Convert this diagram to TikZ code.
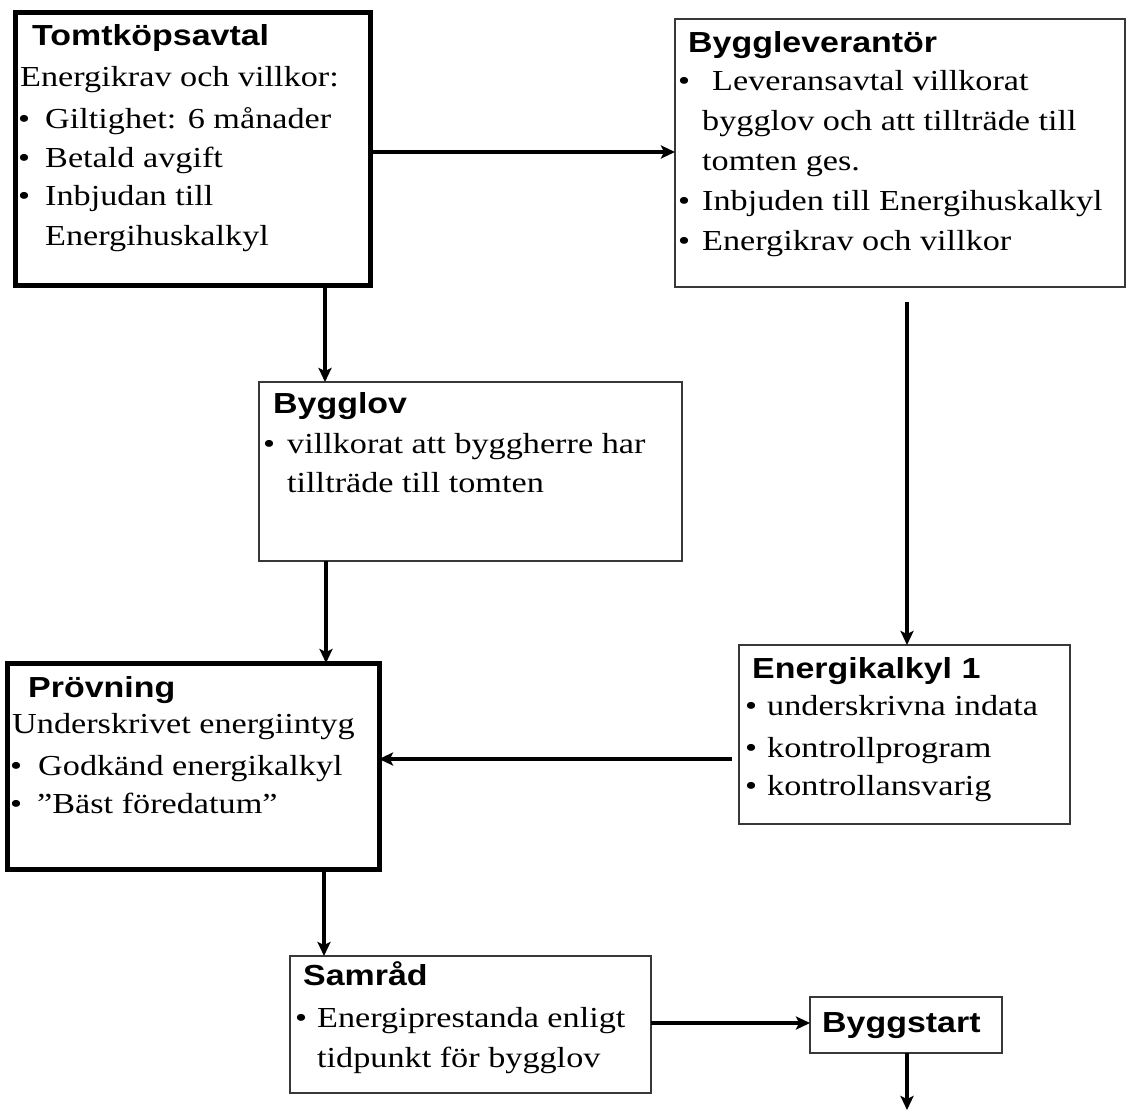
\documentclass[tikz,border=0pt]{standalone}
\usepackage{fontspec}
\usetikzlibrary{arrows.meta}
\newfontfamily\bodyfont[FakeStretch=1.18]{Liberation Serif}
\newfontfamily\headfont[FakeStretch=1.17]{Liberation Sans}
\begin{document}
\begin{tikzpicture}[x=1pt,y=-1pt,
  thinbox/.style={draw=black!78, line width=2pt, inner sep=0pt, outer sep=0pt, anchor=north west},
  thickbox/.style={draw=black, line width=5pt, inner sep=0pt, outer sep=0pt, anchor=north west},
  body/.style={anchor=base west, inner sep=0pt, font=\bodyfont\fontsize{29}{34}\selectfont},
  head/.style={anchor=base west, inner sep=0pt, font=\headfont\bfseries\fontsize{29}{34}\selectfont},
  arr/.style={line width=4pt, -{Stealth[length=14pt,width=13pt,inset=3pt]}}]
\useasboundingbox[fill=white] (0,0) rectangle (1126,1111);

% boxes
\node[thickbox, minimum width=354.5pt, minimum height=272.5pt] (tomt) at (15.5,12.5) {};
\node[thinbox, minimum width=450pt, minimum height=268pt] (byggl) at (675,19) {};
\node[thinbox, minimum width=423pt, minimum height=179pt] (bygglov) at (259,382) {};
\node[thickbox, minimum width=371.5pt, minimum height=206pt] (prov) at (7.5,663) {};
\node[thinbox, minimum width=331pt, minimum height=179pt] (energi) at (739,645) {};
\node[thinbox, minimum width=361pt, minimum height=137pt] (samrad) at (290,956) {};
\node[thinbox, minimum width=192pt, minimum height=56pt] (byggstart) at (810,997) {};

% Tomtköpsavtal
\node[head] (t0) at (32,45) {Tomtköpsavtal};
\node[body] (t1) at (20,86) {Energikrav och villkor:};
\node[body] (t2b) at (18,128) {•};
\node[body] (t2) at (45,128) {Giltighet: 6 månader};
\node[body] (t3b) at (18,167) {•};
\node[body] (t3) at (45,167) {Betald avgift};
\node[body] (t4b) at (18,205) {•};
\node[body] (t4) at (45,205) {Inbjudan till};
\node[body] (t5) at (45,245) {Energihuskalkyl};

% Byggleverantör
\node[head] (b0) at (688,52) {Byggleverantör};
\node[body] (b1b) at (678,90) {•};
\node[body] (b1) at (712,90) {Leveransavtal villkorat};
\node[body] (b2) at (702,130) {bygglov och att tillträde till};
\node[body] (b3) at (702,170) {tomten ges.};
\node[body] (b4b) at (678,210) {•};
\node[body] (b4) at (702,210) {Inbjuden till Energihuskalkyl};
\node[body] (b5b) at (678,250) {•};
\node[body] (b5) at (702,250) {Energikrav och villkor};

% Bygglov
\node[head] (g0) at (273,413) {Bygglov};
\node[body] (g1b) at (263,453) {•};
\node[body] (g1) at (287,453) {villkorat att byggherre har};
\node[body] (g2) at (287,492) {tillträde till tomten};

% Prövning
\node[head] (p0) at (28,697) {Prövning};
\node[body] (p1) at (12,733) {Underskrivet energiintyg};
\node[body] (p2b) at (10,775) {•};
\node[body] (p2) at (38,775) {Godkänd energikalkyl};
\node[body] (p3b) at (10,813) {•};
\node[body] (p3) at (37,813) {”Bäst föredatum”};

% Energikalkyl 1
\node[head] (e0) at (752,678) {Energikalkyl 1};
\node[body] (e1b) at (745,715) {•};
\node[body] (e1) at (767,715) {underskrivna indata};
\node[body] (e2b) at (745,757) {•};
\node[body] (e2) at (767,757) {kontrollprogram};
\node[body] (e3b) at (745,795) {•};
\node[body] (e3) at (767,795) {kontrollansvarig};

% Samråd
\node[head] (s0) at (303,985) {Samråd};
\node[body] (s1b) at (295,1027) {•};
\node[body] (s1) at (317,1027) {Energiprestanda enligt};
\node[body] (s2) at (317,1067) {tidpunkt för bygglov};

% Byggstart
\node[head] (y0) at (822,1032) {Byggstart};

% helper coordinates
\coordinate (h1) at (0,152);
\coordinate (h2) at (0,759);
\coordinate (h3) at (0,1023);
\coordinate (v1) at (325,0);
\coordinate (v2) at (326,0);
\coordinate (v4) at (324,0);
\coordinate (c1) at (907,302);
\coordinate (c2) at (732,759);
\coordinate (c3) at (907,1110);

% connectors
\draw[arr] (tomt.east |- h1) -- (byggl.west |- h1);
\draw[arr] (v1 |- tomt.south) -- (v1 |- bygglov.north);
\draw[arr] (c1) -- (c1 |- energi.north);
\draw[arr] (v2 |- bygglov.south) -- (v2 |- prov.north);
\draw[arr] (c2) -- (prov.east |- c2);
\draw[arr] (v4 |- prov.south) -- (v4 |- samrad.north);
\draw[arr] (samrad.east |- h3) -- (byggstart.west |- h3);
\draw[arr] (c3 |- byggstart.south) -- (c3);
\end{tikzpicture}
\end{document}
